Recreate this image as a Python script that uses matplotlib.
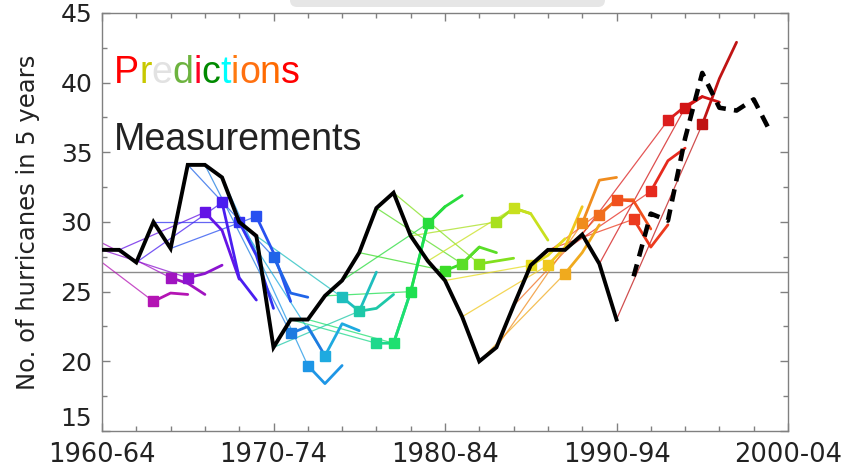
import matplotlib
matplotlib.use("Agg")
import matplotlib.pyplot as plt
import matplotlib.transforms as mtransforms
from matplotlib.patches import FancyBboxPatch
from matplotlib.ticker import MultipleLocator, FixedLocator, FixedFormatter

# ---------------- data ----------------
meas_years = list(range(1960, 1991))
meas_values = [28.0, 28.0, 27.1, 30.0, 28.1, 34.1, 34.1, 33.2, 30.0, 29.0,
               21.0, 23.0, 23.0, 24.7, 25.8, 27.8, 31.0, 32.1, 29.0, 27.2,
               25.8, 23.2, 20.0, 21.0, 24.0, 26.9, 28.0, 28.0, 29.1, 27.0, 23.0]

recent_years = list(range(1991, 2000))
recent_values = [26.1, 30.6, 30.1, 36.0, 40.7, 38.2, 38.0, 38.8, 36.4]

mean_value = 26.4

# each prediction: first predicted window (square), issued at origin point
pred_years = list(range(1963, 1996))
pred_origin_years = [1960, 1960, 1960, 1961, 1962, 1963, 1964, 1965, 1966, 1967,
                     1968, 1969, 1970, 1971, 1972, 1973, 1974, 1975, 1976, 1977,
                     1978, 1979, 1980, 1981, 1982, 1983, 1984, 1985, 1986, 1987,
                     1988, 1989, 1990]
pred_origin_values = [27.1, 28.5, 28.0, 28.0, 27.1, 30.0, 28.1, 34.1, 34.1, 33.2,
                      30.0, 29.0, 21.0, 23.0, 23.0, 24.7, 25.8, 27.8, 31.0, 32.1,
                      29.0, 27.2, 25.8, 23.2, 20.0, 21.0, 24.0, 26.9, 28.0, 28.0,
                      29.1, 27.0, 23.0]
pred_values = [
    [24.3, 24.9, 24.8], [26.0, 25.6, 24.8], [26.0, 26.3, 26.9], [30.7, 29.4, 25.9],
    [31.4, 26.0, 24.4], [30.0, 27.6, 23.8], [30.4, 27.8, 24.3], [27.5, 24.9, 24.6],
    [22.0, 22.5, 20.4], [19.7, 18.4, 19.7], [20.4, 22.7, 22.2], [24.6, 23.6, 26.4],
    [23.6, 23.8, 24.8], [21.3, 21.3, 25.0], [21.3, 25.0, 29.9], [25.0, 29.9, 31.1],
    [29.9, 31.1, 31.9], [26.5, 27.0, 28.2], [27.0, 28.2, 27.8], [27.0, 27.2, 27.4],
    [30.0, 31.0, 30.6], [31.0, 30.6, 28.7], [26.9, 27.6, 28.8], [26.9, 28.2, 31.1],
    [26.3, 27.8, 29.8], [29.9, 33.0, 33.2], [30.5, 31.6, 31.6], [31.6, 31.5, 29.5],
    [30.2, 28.2, 29.8], [32.2, 34.4, 35.3], [37.3, 38.3, 39.0], [38.2, 39.0, 38.6],
    [37.0, 40.3, 42.9],
]
pred_colors = [
    "#b414b4", "#a014c0", "#8c14d0", "#6414e6", "#4a1ef0", "#3232f0", "#2850f0",
    "#2064e8", "#1e7ce0", "#1e96e6", "#1eaae0", "#1ebebe", "#1ec8a8", "#1ed88c",
    "#1ee070", "#1ee050", "#28dc3c", "#3cdc28", "#5ade28", "#82e01e", "#a8e01e",
    "#c8e01e", "#e6dc1e", "#f0c81e", "#f0aa1e", "#f08c1e", "#f06e1e", "#f0501e",
    "#ec3a1e", "#e62a1e", "#dc1e1e", "#d21414", "#c01414",
]

x_tick_years = [1960, 1970, 1980, 1990, 2000]
x_tick_labels = ["1960-64", "1970-74", "1980-84", "1990-94", "2000-04"]
y_ticks = [15, 20, 25, 30, 35, 40, 45]

title_word = "Predictions"
title_colors = ["#ff0000", "#c8c800", "#e2e2e2", "#6db33f", "#ff0022", "#008a00",
                "#00ffff", "#ff7a10", "#ff7010", "#ff6a00", "#ff0000"]

# ---------------- figure ----------------
W, H = 842, 468
fig = plt.figure(figsize=(W / 100, H / 100), dpi=100)
ax = fig.add_axes([102 / W, 37 / H, 686 / W, 418 / H])
ax.set_xlim(1960, 2000)
ax.set_ylim(15, 45)

grey = "#808080"
for s in ax.spines.values():
    s.set_color(grey)
    s.set_linewidth(1.0)

ax.axhline(mean_value, color="#8c8c8c", lw=1.0, zorder=1)

for yr, oy, ov, vals, col in zip(pred_years, pred_origin_years, pred_origin_values,
                                  pred_values, pred_colors):
    yrs = [yr + i for i in range(len(vals))]
    ax.plot([oy, yr], [ov, vals[0]], color=col, lw=0.9, alpha=0.75, zorder=2,
            solid_capstyle="round")
    ax.plot(yrs, vals, color=col, lw=2.0, zorder=3, solid_capstyle="round",
            solid_joinstyle="round")
    ax.plot([yr], [vals[0]], marker="s", ms=7, color=col, mec=col, zorder=4)

ax.plot(meas_years, meas_values, color="black", lw=2.8, zorder=5,
        solid_joinstyle="miter")
ax.plot(recent_years, recent_values, color="black", lw=3.3, zorder=5,
        linestyle=(0, (2.7, 1.8)), dash_capstyle="butt")

ax.xaxis.set_major_locator(FixedLocator(x_tick_years))
ax.xaxis.set_major_formatter(FixedFormatter(x_tick_labels))
ax.xaxis.set_minor_locator(MultipleLocator(2))
ax.yaxis.set_major_locator(FixedLocator(y_ticks))
ax.yaxis.set_minor_locator(MultipleLocator(2.5))
ax.tick_params(which="both", direction="in", top=True, right=True, color=grey,
               width=1.0)
ax.tick_params(which="major", length=6)
ax.tick_params(which="minor", length=3.5)
ax.tick_params(axis="x", which="major", pad=8, labelsize=18.5, labelcolor="#222222")
ax.tick_params(axis="y", which="major", pad=7, labelsize=18, labelcolor="#222222")
for lab in ax.get_xticklabels() + ax.get_yticklabels():
    lab.set_family("DejaVu Sans")
# lowest y label sits a little higher, clear of the x labels
ax.yaxis.get_major_ticks()[0].label1.set_verticalalignment("bottom")

fig.text(28 / W, 246 / H, "No. of hurricanes in 5 years", rotation=90,
         ha="center", va="center", fontsize=17.5, color="#222222",
         family="DejaVu Sans")

# grey screenshot bar at top
bar = FancyBboxPatch((290, H - 7), 315, 30,
                     boxstyle="round,pad=0,rounding_size=7",
                     transform=mtransforms.IdentityTransform(),
                     facecolor="#e6e6e6", edgecolor="none")
fig.patches.append(bar)

# multicoloured "Predictions"
fig.canvas.draw()
renderer = fig.canvas.get_renderer()
ident = mtransforms.IdentityTransform()
x0, yb = 114, H - 83
fs = 27
for i, (ch, col) in enumerate(zip(title_word, title_colors)):
    if i == 0:
        dx = 0
    else:
        tmp = fig.text(x0, yb, title_word[:i], fontsize=fs, family="Liberation Sans",
                       transform=ident)
        dx = tmp.get_window_extent(renderer).width
        tmp.remove()
    fig.text(x0 + dx, yb, ch, color=col, fontsize=fs, family="Liberation Sans",
             transform=ident, va="baseline", ha="left")

fig.text(x0, H - 150, "Measurements", color="#222222", fontsize=fs,
         family="Liberation Sans", transform=ident, va="baseline", ha="left")

fig.savefig("out.png", dpi=100)
